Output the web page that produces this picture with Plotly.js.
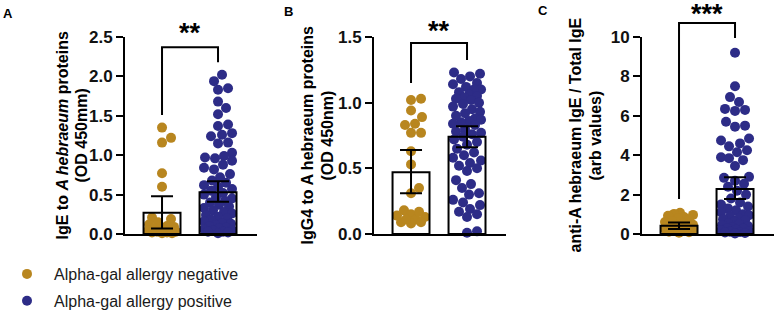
<!DOCTYPE html>
<html><head><meta charset="utf-8">
<script src="https://cdn.plot.ly/plotly-3.0.1.min.js"></script>
<style>html,body{margin:0;padding:0;background:#fff}</style>
</head><body><div id="chart" style="width:774px;height:311px"></div>
<script>
// ---------- data ----------
const groups = ['Alpha-gal allergy negative', 'Alpha-gal allergy positive'];
const groupColors = ['#B8861F', '#2D2C87'];

// Panel A: IgE to A hebraeum proteins (OD 450mm)
const aNeg = [1.35, 1.22, 1.16, 0.77, 0.60, 0.21, 0.19, 0.15, 0.12, 0.10, 0.09, 0.07, 0.06, 0.05, 0.05, 0.04, 0.03, 0.03, 0.02, 0.02, 0.01, 0.01];
const aPos = [2.02, 1.94, 1.85, 1.83, 1.68, 1.60, 1.52, 1.39, 1.37, 1.28, 1.26, 1.24, 1.16, 1.15, 1.03, 0.99, 0.97, 0.96, 0.93, 0.88, 0.84, 0.82,
  0.76, 0.72, 0.68, 0.65, 0.62, 0.60, 0.57, 0.55, 0.52, 0.50, 0.47, 0.45, 0.42, 0.40, 0.37, 0.35, 0.33, 0.30, 0.28, 0.26, 0.24, 0.22, 0.20,
  0.18, 0.16, 0.14, 0.13, 0.11, 0.10, 0.08, 0.07, 0.06, 0.05, 0.04, 0.03, 0.03, 0.02, 0.01];
const aMean = [0.27, 0.53];
const aLow = [0.07, 0.41];
const aHigh = [0.48, 0.67];

// Panel B: IgG4 to A hebraeum proteins (OD 450nm)
const bNeg = [1.03, 1.02, 0.94, 0.89, 0.84, 0.83, 0.77, 0.77, 0.63, 0.53, 0.35, 0.31, 0.18, 0.15, 0.13, 0.11, 0.09, 0.08, 0.09, 0.11, 0.14, 0.17];
const bPos = [1.23, 1.22, 1.20, 1.18, 1.15, 1.14, 1.12, 1.10, 1.10, 1.08, 1.06, 1.05, 1.04, 1.03, 1.02, 1.00, 0.99, 0.97, 0.95, 0.93,
  0.92, 0.90, 0.88, 0.87, 0.86, 0.85, 0.84, 0.83, 0.80, 0.78, 0.77, 0.76, 0.74, 0.72, 0.70, 0.68, 0.65, 0.62, 0.60, 0.58,
  0.56, 0.54, 0.52, 0.50, 0.48, 0.41, 0.38, 0.35, 0.31, 0.30, 0.26, 0.24, 0.22, 0.19, 0.17, 0.15, 0.13, 0.02, 0.01];
const bMean = [0.47, 0.74];
const bLow = [0.31, 0.66];
const bHigh = [0.64, 0.82];

// Panel C: anti-A hebraeum IgE / Total IgE (arb values)
const cNeg = [1.08, 1.02, 0.97, 0.93, 0.86, 0.81, 0.72, 0.66, 0.61, 0.55, 0.47, 0.43, 0.38, 0.33, 0.29, 0.26, 0.22, 0.19, 0.15, 0.12, 0.09, 0.06];
const cPos = [9.2, 7.5, 6.95, 6.7, 6.35, 6.3, 6.25, 5.7, 5.5, 5.45, 4.85, 4.75, 4.6, 4.45, 4.25, 4.15, 3.9, 3.85, 3.75, 3.45,
  2.9, 2.85, 2.7, 2.55, 2.4, 2.2, 2.0, 1.8, 1.6, 1.5, 1.4, 1.3, 1.2, 1.1, 1.0, 0.95, 0.9, 0.8, 0.75, 0.7,
  0.62, 0.55, 0.5, 0.45, 0.4, 0.35, 0.3, 0.27, 0.22, 0.18, 0.15, 0.12, 0.1, 0.08, 0.05, 0.03];
const cMean = [0.42, 2.29];
const cLow = [0.25, 1.78];
const cHigh = [0.59, 2.88];

// axes
const yMax = [2.5, 1.5, 10];
const yDtick = [0.5, 0.5, 2];
const yFormat = ['.1f', '.1f', 'd'];
const titleLine1 = ['IgE to <i>A hebraeum</i> proteins', 'IgG4 to A hebraeum proteins', 'anti-A hebraeum IgE / Total IgE'];
const titleLine2 = ['(OD 450mm)', '(OD 450nm)', '(arb values)'];
const panelLetters = ['A', 'B', 'C'];
// significance
const sigText = ['**', '**', '***'];
const brackTop = [2.37, 1.455, 10.71];
const brackLeft = [1.51, 1.15, 1.78];
const brackRight = [2.18, 1.325, 9.95];
const sigY = [2.545, 1.542, 11.17];

// ---------- layout geometry ----------
const W = 774, H = 311;
const plotTop = 37, plotBottom = 234;
const panelLeft = [125, 374, 642];
const panelW = 132;
const xRange = [-0.661, 1.696];
const barWidth = 0.66;
const dotSize = 10;
const titleX1 = [62, 307, 575];
const titleX2 = [81, 327, 595];
const letterPos = [[8, 13], [288, 12], [543, 11]];
const font = 'Liberation Sans, Arial, sans-serif';

const panels = [
  {vals: [aNeg, aPos], mean: aMean, low: aLow, high: aHigh},
  {vals: [bNeg, bPos], mean: bMean, low: bLow, high: bHigh},
  {vals: [cNeg, cPos], mean: cMean, low: cLow, high: cHigh}
];

function swarm(vals, pxPerY, pxPerX, diam, maxOff) {
  const order = vals.map((v, i) => i).sort((a, b) => vals[a] - vals[b]);
  const placed = [];
  const xs = new Array(vals.length);
  for (const i of order) {
    const py = vals[i] * pxPerY;
    let chosen = null, bestD = -1, bestC = 0;
    for (let k = 0; k <= 2 * maxOff; k++) {
      const c = (k % 2 ? 1 : -1) * Math.ceil(k / 2);
      let md = Infinity;
      for (const p of placed) {
        const d = Math.hypot(p.x - c, p.y - py);
        if (d < md) md = d;
      }
      if (md >= diam) { chosen = c; break; }
      if (md > bestD) { bestD = md; bestC = c; }
    }
    if (chosen === null) chosen = bestC;
    placed.push({x: chosen, y: py});
    xs[i] = chosen / pxPerX;
  }
  return xs;
}

const data = [];
const layout = {
  width: W, height: H,
  margin: {l: 0, r: 0, t: 0, b: 0, pad: 0, autoexpand: false},
  paper_bgcolor: '#fff', plot_bgcolor: 'rgba(0,0,0,0)',
  showlegend: true,
  legend: {
    x: 0, xanchor: 'left', y: (H - 257) / H, yanchor: 'top',
    font: {family: font, size: 16, color: '#1a1a1a'},
    itemwidth: 44, tracegroupgap: 3, bgcolor: 'rgba(0,0,0,0)'
  },
  annotations: [], shapes: []
};

const yDom = [(H - plotBottom) / H, (H - plotTop) / H];
const pxPerX = panelW / (xRange[1] - xRange[0]);

panels.forEach((p, k) => {
  const n = k + 1, m = k + 4;
  const xs = n === 1 ? '' : String(n);
  const dom = [panelLeft[k] / W, Math.min(1, (panelLeft[k] + panelW) / W)];
  const pxPerY = (plotBottom - plotTop) / yMax[k];
  layout['xaxis' + xs] = {
    domain: dom, anchor: 'y' + xs, range: xRange, showline: true, linewidth: 2, linecolor: '#000',
    showticklabels: false, ticks: '', showgrid: false, zeroline: false, fixedrange: true
  };
  layout['yaxis' + xs] = {
    domain: yDom, anchor: 'x' + xs, range: [0, yMax[k]], dtick: yDtick[k], tick0: 0, tickformat: yFormat[k],
    showline: true, linewidth: 2, linecolor: '#000', ticks: 'outside', ticklen: 7, tickwidth: 2, tickcolor: '#000',
    tickfont: {family: font, size: 17, weight: 'bold', color: '#111'},
    showgrid: false, zeroline: false, fixedrange: true
  };
  layout['xaxis' + m] = {domain: dom, anchor: 'y' + m, overlaying: 'x' + xs, range: xRange, visible: false, fixedrange: true};
  layout['yaxis' + m] = {domain: yDom, anchor: 'x' + m, overlaying: 'y' + xs, range: [0, yMax[k]], visible: false, fixedrange: true};

  // dots
  p.vals.forEach((vals, g) => {
    const off = swarm(vals, pxPerY, pxPerX, 9.5, 14);
    data.push({
      type: 'scatter', mode: 'markers', xaxis: 'x' + xs, yaxis: 'y' + xs,
      x: vals.map((v, i) => g + off[i]), y: vals,
      name: groups[g], legendgroup: 'g' + g, showlegend: k === 0,
      marker: {color: groupColors[g], size: dotSize, line: {width: 0}},
      cliponaxis: false, hoverinfo: 'y'
    });
  });
  // bars with 95% CI on overlaid axes (drawn above dots)
  data.push({
    type: 'bar', xaxis: 'x' + m, yaxis: 'y' + m, x: [0, 1], y: p.mean, width: barWidth,
    marker: {color: 'rgba(0,0,0,0)', line: {color: '#000', width: 2}},
    error_y: {type: 'data', symmetric: false,
      array: p.high.map((h, i) => h - p.mean[i]), arrayminus: p.low.map((l, i) => p.mean[i] - l),
      color: '#000', thickness: 2, width: 11},
    showlegend: false, hoverinfo: 'y'
  });

  // bracket
  const yd = v => v / yMax[k];
  layout.shapes.push({
    type: 'path', xref: 'x' + xs, yref: 'y' + xs + ' domain',
    path: `M 0,${yd(brackLeft[k])} L 0,${yd(brackTop[k])} L 1,${yd(brackTop[k])} L 1,${yd(brackRight[k])}`,
    line: {color: '#000', width: 2}
  });
  layout.annotations.push({
    xref: 'x' + xs, yref: 'y' + xs + ' domain', x: 0.5, y: yd(sigY[k]), text: sigText[k], showarrow: false,
    xanchor: 'center', yanchor: 'middle', font: {family: font, size: 27, weight: 'bold', color: '#000'}
  });
  // axis titles
  const yc = (H - (plotTop + plotBottom) / 2) / H;
  layout.annotations.push({
    xref: 'paper', yref: 'paper', x: titleX1[k] / W, y: yc, text: titleLine1[k], textangle: -90,
    showarrow: false, xanchor: 'center', yanchor: 'middle', font: {family: font, size: 16, weight: 'bold', color: '#000'}
  });
  layout.annotations.push({
    xref: 'paper', yref: 'paper', x: titleX2[k] / W, y: yc, text: titleLine2[k], textangle: -90,
    showarrow: false, xanchor: 'center', yanchor: 'middle', font: {family: font, size: 16, weight: 'bold', color: '#000'}
  });
  layout.annotations.push({
    xref: 'paper', yref: 'paper', x: letterPos[k][0] / W, y: (H - letterPos[k][1]) / H, text: panelLetters[k],
    showarrow: false, xanchor: 'center', yanchor: 'middle', font: {family: font, size: 13, weight: 'bold', color: '#000'}
  });
});

Plotly.newPlot('chart', data, layout, {displayModeBar: false, staticPlot: true});
</script>
</body></html>
